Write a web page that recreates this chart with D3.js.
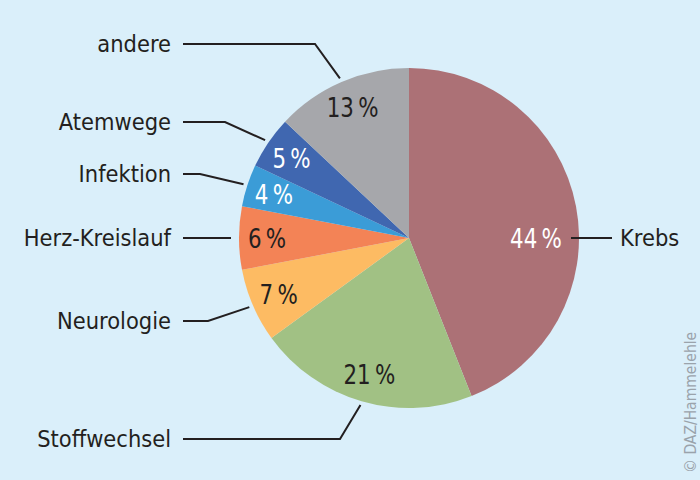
<!DOCTYPE html>
<html>
<head>
<meta charset="utf-8">
<script src="https://cdn.jsdelivr.net/npm/d3@7"></script>
<style>
  html, body { margin: 0; padding: 0; background: #daeffa; }
  svg { display: block; }
  text { font-family: "DejaVu Sans Condensed", "Liberation Sans Narrow", sans-serif; }
</style>
</head>
<body>
<svg id="chart" width="700" height="480"></svg>
<script>
// ---- data ----
const categories = ["Krebs", "Stoffwechsel", "Neurologie", "Herz-Kreislauf", "Infektion", "Atemwege", "andere"];
const values = [44, 21, 7, 6, 4, 5, 13];
const colors = ["#ac7176", "#a1c184", "#fdbb63", "#f38356", "#3b9cd7", "#4067b0", "#a6a7ab"];
const valueTextColors = ["#ffffff", "#231f20", "#231f20", "#231f20", "#ffffff", "#ffffff", "#231f20"];
const credit = "© DAZ/Hammelehle";

// ---- layout ----
const W = 700, H = 480;
const cx = 409, cy = 238, R = 170;
const labelX = 171;           // right edge of left-side labels
const lineStartX = 183;       // start of horizontal leader lines
// vertical offset (relative to pie centre) of each outside label row
const labelRowDy = { "andere": -194, "Atemwege": -116, "Infektion": -64, "Herz-Kreislauf": 0, "Neurologie": 83, "Stoffwechsel": 201 };
const horizontalLen = { "andere": 132, "Atemwege": 42, "Infektion": 17, "Herz-Kreislauf": 48, "Neurologie": 25, "Stoffwechsel": 157 };

const svg = d3.select("#chart");
svg.append("rect").attr("width", W).attr("height", H).attr("fill", "#daeffa");

const data = categories.map((c, i) => ({ name: c, value: values[i], color: colors[i], tc: valueTextColors[i] }));

const pie = d3.pie().value(d => d.value).sort(null).startAngle(0).endAngle(2 * Math.PI);
const arcs = pie(data);
const arc = d3.arc().innerRadius(0).outerRadius(R);

const g = svg.append("g").attr("transform", `translate(${cx},${cy})`);

g.selectAll("path.slice")
  .data(arcs)
  .enter().append("path")
  .attr("class", "slice")
  .attr("d", arc)
  .attr("fill", d => d.data.color);

// percent labels
const labelArc = d3.arc().innerRadius(142).outerRadius(142);
g.selectAll("text.pct")
  .data(arcs)
  .enter().append("text")
  .attr("class", "pct")
  .attr("transform", (d, i) => {
    let [x, y] = labelArc.centroid(d);
    if (i === 0) { x = 127; y = 0; }  // largest slice: aligned with its leader line
    return `translate(${x},${y}) scale(0.88,1)`;
  })
  .attr("text-anchor", "middle")
  .attr("dominant-baseline", "central")
  .attr("font-size", 27)
  .attr("fill", d => d.data.tc)
  .text(d => d.data.value + "\u2009%");

// leader lines + outside labels
const tipArc = d3.arc().innerRadius(R + 4).outerRadius(R + 4);
const line = d3.line();
const labelSize = 23.4;
arcs.forEach((d, i) => {
  if (i === 0) {
    // Krebs on the right
    g.append("path")
      .attr("d", line([[162, 0], [203, 0]]))
      .attr("stroke", "#231f20").attr("stroke-width", 2).attr("fill", "none");
    g.append("text")
      .attr("x", 211).attr("y", 0)
      .attr("dominant-baseline", "central")
      .attr("font-size", labelSize)
      .attr("fill", "#231f20")
      .text(d.data.name);
    return;
  }
  const name = d.data.name;
  const dy = labelRowDy[name];
  const x0 = lineStartX - cx;
  const x1 = x0 + horizontalLen[name];
  let pts;
  if (name === "Herz-Kreislauf") {
    pts = [[x0, dy], [-R - 8, dy]];
  } else {
    const tip = tipArc.centroid(d);
    pts = [[x0, dy], [x1, dy], tip];
  }
  g.append("path")
    .attr("d", line(pts))
    .attr("stroke", "#231f20").attr("stroke-width", 2).attr("fill", "none");
  g.append("text")
    .attr("x", labelX - cx).attr("y", dy)
    .attr("text-anchor", "end")
    .attr("dominant-baseline", "central")
    .attr("font-size", labelSize)
    .attr("fill", "#231f20")
    .text(name);
});

// credit
svg.append("text")
  .attr("transform", "translate(696,473) rotate(-90)")
  .attr("font-size", 15.5)
  .attr("fill", "#9aa3ab")
  .text(credit);
</script>
</body>
</html>
